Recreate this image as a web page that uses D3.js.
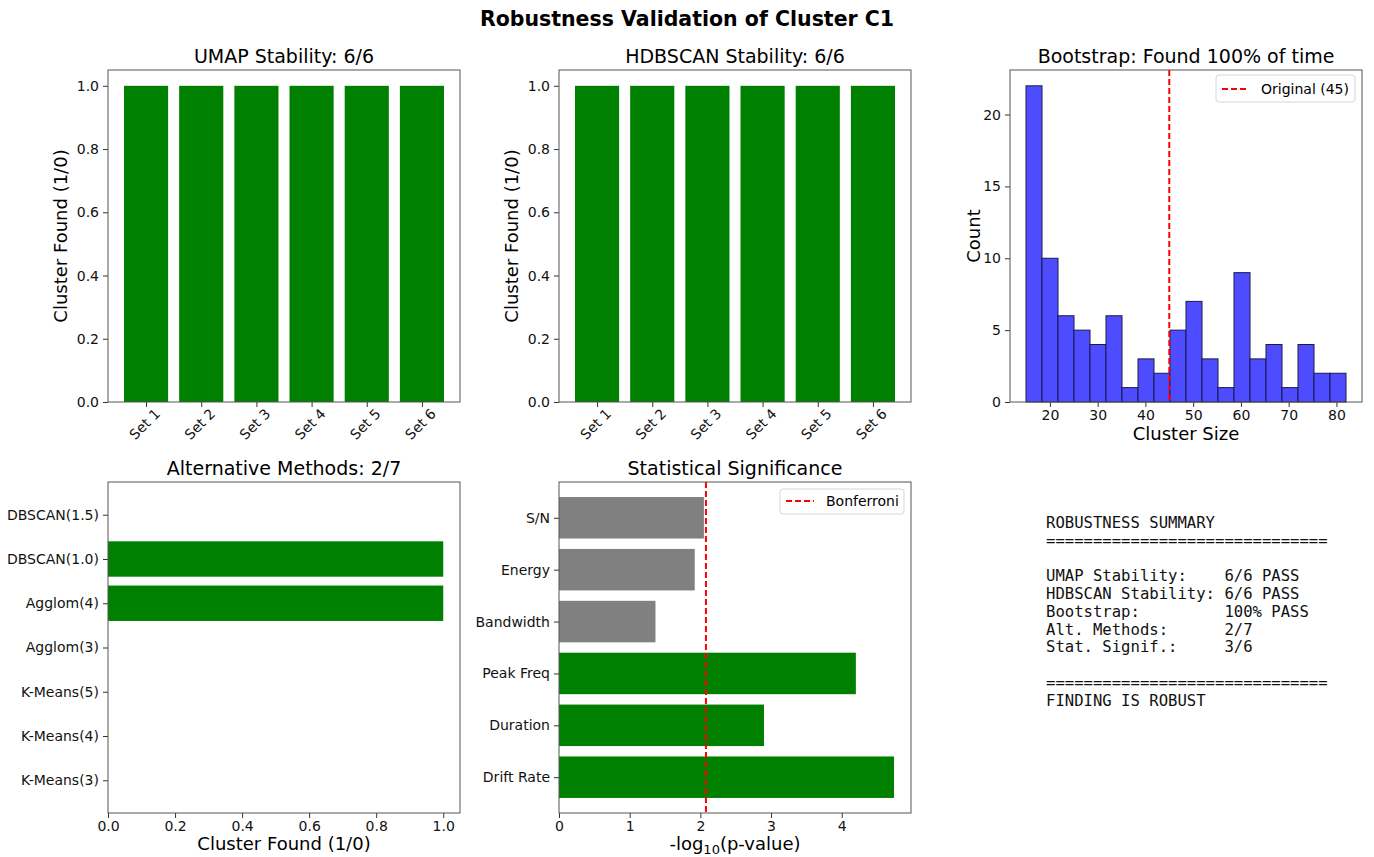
<!DOCTYPE html>
<html>
<head>
<meta charset="utf-8">
<script src="https://cdn.jsdelivr.net/npm/d3@7/dist/d3.min.js"></script>
<style>
  html, body { margin: 0; padding: 0; background: #fff; }
  svg { display: block; font-family: "DejaVu Sans", sans-serif; }
  .tick text { font-size: 14px; fill: #111; font-family: "DejaVu Sans", sans-serif; }
  .tick line { stroke: #333; }
</style>
</head>
<body>
<svg id="fig" width="1374" height="857"></svg>
<script>
// ---- data ----
const umapSets = ["Set 1", "Set 2", "Set 3", "Set 4", "Set 5", "Set 6"];
const umapFound = [1, 1, 1, 1, 1, 1];
const hdbscanSets = ["Set 1", "Set 2", "Set 3", "Set 4", "Set 5", "Set 6"];
const hdbscanFound = [1, 1, 1, 1, 1, 1];

const bootEdges = [15, 18.35, 21.7, 25.05, 28.4, 31.75, 35.1, 38.45, 41.8, 45.15, 48.5,
                   51.85, 55.2, 58.55, 61.9, 65.25, 68.6, 71.95, 75.3, 78.65, 82];
const bootCounts = [22, 10, 6, 5, 4, 6, 1, 3, 2, 5, 7, 3, 1, 9, 3, 4, 1, 4, 2, 2];
const originalSize = 45;
const bootTicks = [20, 30, 40, 50, 60, 70, 80];
const countTicks = [0, 5, 10, 15, 20];

const altMethods = ["K-Means(3)", "K-Means(4)", "K-Means(5)", "Agglom(3)", "Agglom(4)", "DBSCAN(1.0)", "DBSCAN(1.5)"];
const altFound = [0, 0, 0, 0, 1, 1, 0];

const features = ["Drift Rate", "Duration", "Peak Freq", "Bandwidth", "Energy", "S/N"];
const negLogP = [4.74, 2.90, 4.20, 1.365, 1.92, 2.05];
const bonferroni = 2.079;
const sigTicks = [0, 1, 2, 3, 4];

const fractionTicks = [0, 0.2, 0.4, 0.6, 0.8, 1.0];

const summaryLines = [
  "ROBUSTNESS SUMMARY",
  "==============================",
  "",
  "UMAP Stability:    6/6 PASS",
  "HDBSCAN Stability: 6/6 PASS",
  "Bootstrap:         100% PASS",
  "Alt. Methods:      2/7",
  "Stat. Signif.:     3/6",
  "",
  "==============================",
  "FINDING IS ROBUST"
];

// ---- layout ----
const svg = d3.select("#fig");
const colX = [108, 559, 1010];
const rowY = [70, 482];
const W = 352, H = [332, 331];
const GREEN = "#008000", GRAY = "#808080", RED = "#ff0000";

svg.append("text")
  .attr("x", 687).attr("y", 26)
  .attr("text-anchor", "middle")
  .style("font-size", "20.5px").style("font-weight", "bold")
  .text("Robustness Validation of Cluster C1");

function panel(cx, cy, h, title) {
  const g = svg.append("g").attr("transform", `translate(${cx},${cy})`);
  g.append("text").attr("x", W / 2).attr("y", -7)
    .attr("text-anchor", "middle").style("font-size", "19px").text(title);
  return g;
}
function frame(g, h) {
  g.append("rect").attr("width", W).attr("height", h)
    .attr("fill", "none").attr("stroke", "#555").attr("stroke-width", 1);
}
function styleAxis(a) {
  a.select(".domain").remove();
  a.selectAll(".tick line").attr("stroke", "#333");
}
function yLabel(g, h, txt, x) {
  g.append("text")
    .attr("transform", `translate(${x},${h / 2}) rotate(-90)`)
    .attr("text-anchor", "middle").style("font-size", "18px").text(txt);
}
function xLabel(g, y, txt) {
  return g.append("text").attr("x", W / 2).attr("y", y)
    .attr("text-anchor", "middle").style("font-size", "18px").text(txt);
}

// vertical bar panel (sets found 1/0)
function stabilityPanel(cx, title, cats, vals) {
  const h = H[0];
  const g = panel(cx, rowY[0], h, title);
  const x = d3.scaleLinear().domain([-0.69, cats.length - 1 + 0.69]).range([0, W]);
  const y = d3.scaleLinear().domain([0, 1.05]).range([h, 0]);
  g.selectAll("rect.bar").data(vals).join("rect").attr("class", "bar")
    .attr("x", (d, i) => x(i - 0.4)).attr("width", x(0.8) - x(0))
    .attr("y", d => y(d)).attr("height", d => y(0) - y(d))
    .attr("fill", GREEN);
  const ya = g.append("g").call(d3.axisLeft(y).tickValues(fractionTicks)
    .tickFormat(d3.format(".1f")).tickSize(5).tickPadding(4));
  styleAxis(ya);
  const xa = g.append("g").attr("transform", `translate(0,${h})`)
    .call(d3.axisBottom(x).tickValues(d3.range(cats.length))
      .tickFormat(i => cats[i]).tickSize(5).tickPadding(3));
  styleAxis(xa);
  xa.selectAll(".tick text")
    .attr("y", 0).attr("dy", 0)
    .attr("text-anchor", "middle")
    .attr("dominant-baseline", "central")
    .attr("transform", "translate(-2,22) rotate(-45)");
  frame(g, h);
  yLabel(g, h, "Cluster Found (1/0)", -41);
}

stabilityPanel(colX[0], "UMAP Stability: 6/6", umapSets, umapFound);
stabilityPanel(colX[1], "HDBSCAN Stability: 6/6", hdbscanSets, hdbscanFound);

// bootstrap histogram
(function () {
  const h = H[0];
  const g = panel(colX[2], rowY[0], h, "Bootstrap: Found 100% of time");
  const x = d3.scaleLinear().domain([11.65, 85.35]).range([0, W]);
  const y = d3.scaleLinear().domain([0, 23.1]).range([h, 0]);
  g.selectAll("rect.bin").data(bootCounts).join("rect").attr("class", "bin")
    .attr("x", (d, i) => x(bootEdges[i]))
    .attr("width", (d, i) => x(bootEdges[i + 1]) - x(bootEdges[i]))
    .attr("y", d => y(d)).attr("height", d => y(0) - y(d))
    .attr("fill", "rgb(77,77,255)").attr("stroke", "#1a1a4d").attr("stroke-width", 1);
  g.append("line").attr("x1", x(originalSize)).attr("x2", x(originalSize))
    .attr("y1", 0).attr("y2", h).attr("stroke", RED)
    .attr("stroke-width", 2).attr("stroke-dasharray", "6,3");
  const ya = g.append("g").call(d3.axisLeft(y).tickValues(countTicks).tickSize(5).tickPadding(4));
  styleAxis(ya);
  const xa = g.append("g").attr("transform", `translate(0,${h})`)
    .call(d3.axisBottom(x).tickValues(bootTicks).tickSize(5).tickPadding(3));
  styleAxis(xa);
  frame(g, h);
  yLabel(g, h, "Count", -30);
  xLabel(g, h + 38, "Cluster Size");
  // legend
  const lg = g.append("g").attr("transform", `translate(${W - 146},5)`);
  lg.append("rect").attr("width", 139).attr("height", 27).attr("rx", 3)
    .attr("fill", "#fff").attr("stroke", "#d6d6d6");
  lg.append("line").attr("x1", 6).attr("x2", 32).attr("y1", 14).attr("y2", 14)
    .attr("stroke", RED).attr("stroke-width", 2).attr("stroke-dasharray", "6,3");
  lg.append("text").attr("x", 45).attr("y", 19).style("font-size", "14px").text("Original (45)");
})();

// alternative methods (horizontal)
(function () {
  const h = H[1];
  const g = panel(colX[0], rowY[1], h, "Alternative Methods: 2/7");
  const x = d3.scaleLinear().domain([0, 1.05]).range([0, W]);
  const y = d3.scaleLinear().domain([-0.74, altMethods.length - 1 + 0.74]).range([h, 0]);
  g.selectAll("rect.bar").data(altFound).join("rect").attr("class", "bar")
    .attr("x", x(0)).attr("width", d => x(d) - x(0))
    .attr("y", (d, i) => y(i + 0.4)).attr("height", y(0) - y(0.8))
    .attr("fill", GREEN);
  const ya = g.append("g").call(d3.axisLeft(y).tickValues(d3.range(altMethods.length))
    .tickFormat(i => altMethods[i]).tickSize(5).tickPadding(4));
  styleAxis(ya);
  const xa = g.append("g").attr("transform", `translate(0,${h})`)
    .call(d3.axisBottom(x).tickValues(fractionTicks).tickFormat(d3.format(".1f")).tickSize(5).tickPadding(3));
  styleAxis(xa);
  frame(g, h);
  xLabel(g, h + 37, "Cluster Found (1/0)");
})();

// statistical significance (horizontal)
(function () {
  const h = H[1];
  const g = panel(colX[1], rowY[1], h, "Statistical Significance");
  const x = d3.scaleLinear().domain([0, 4.98]).range([0, W]);
  const y = d3.scaleLinear().domain([-0.69, features.length - 1 + 0.69]).range([h, 0]);
  g.selectAll("rect.bar").data(negLogP).join("rect").attr("class", "bar")
    .attr("x", x(0)).attr("width", d => x(d) - x(0))
    .attr("y", (d, i) => y(i + 0.4)).attr("height", y(0) - y(0.8))
    .attr("fill", d => d > bonferroni ? GREEN : GRAY);
  g.append("line").attr("x1", x(bonferroni)).attr("x2", x(bonferroni))
    .attr("y1", 0).attr("y2", h).attr("stroke", RED)
    .attr("stroke-width", 2).attr("stroke-dasharray", "6,3");
  const ya = g.append("g").call(d3.axisLeft(y).tickValues(d3.range(features.length))
    .tickFormat(i => features[i]).tickSize(5).tickPadding(4));
  styleAxis(ya);
  const xa = g.append("g").attr("transform", `translate(0,${h})`)
    .call(d3.axisBottom(x).tickValues(sigTicks).tickFormat(d3.format("d")).tickSize(5).tickPadding(3));
  styleAxis(xa);
  frame(g, h);
  const t = xLabel(g, h + 37, "");
  t.append("tspan").text("-log");
  t.append("tspan").attr("dy", 4).style("font-size", "13px").text("10");
  t.append("tspan").attr("dy", -4).text("(p-value)");
  // legend
  const lg = g.append("g").attr("transform", `translate(${W - 131},7)`);
  lg.append("rect").attr("width", 124).attr("height", 25).attr("rx", 3)
    .attr("fill", "#fff").attr("stroke", "#d6d6d6");
  lg.append("line").attr("x1", 6).attr("x2", 34).attr("y1", 12).attr("y2", 12)
    .attr("stroke", RED).attr("stroke-width", 2).attr("stroke-dasharray", "6,3");
  lg.append("text").attr("x", 46).attr("y", 17).style("font-size", "14px").text("Bonferroni");
})();

// text summary
(function () {
  const t = svg.append("text")
    .attr("x", 1046).attr("y", 528)
    .style("font-family", "'DejaVu Sans Mono', monospace")
    .style("font-size", "15.6px").attr("fill", "#111")
    .attr("xml:space", "preserve");
  summaryLines.forEach((line, i) => {
    t.append("tspan").attr("x", 1046).attr("y", 528 + i * 17.75)
      .style("white-space", "pre").text(line);
  });
})();
</script>
</body>
</html>
